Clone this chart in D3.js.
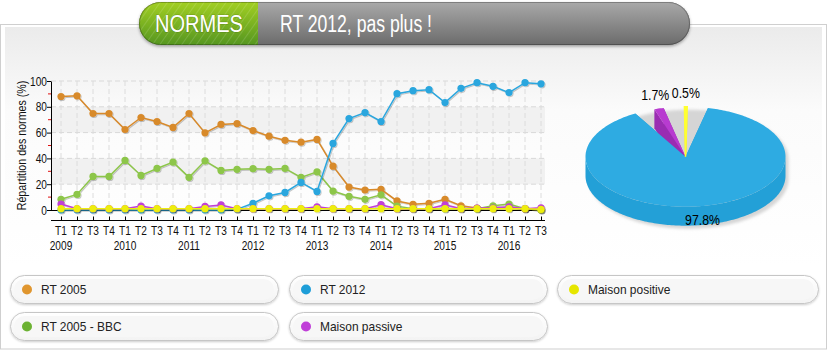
<!DOCTYPE html>
<html><head><meta charset="utf-8">
<script src="https://cdn.jsdelivr.net/npm/d3@7"></script>
<style>html,body{margin:0;padding:0;background:#fff;}svg{display:block;}</style>
</head><body><svg id="c" width="827" height="350"></svg>
<script>
// ---------- DATA ----------
const quarters = ["T1","T2","T3","T4","T1","T2","T3","T4","T1","T2","T3","T4","T1","T2","T3","T4",
                  "T1","T2","T3","T4","T1","T2","T3","T4","T1","T2","T3","T4","T1","T2","T3"];
const years = ["2009","2010","2011","2012","2013","2014","2015","2016"];
const yTicks = [0,20,40,60,80,100];
const yMinorTicks = [10,30,50,70,90];
const rt2005 =  [88,88.5,74.8,74.8, 62.4,71.7,68.6,64, 74.8,59.8,66.3,67, 61.6,57.2,54,52.6, 54.7,34,17.8,15.5, 16,7,4.4,5.2, 8.3,3.3,1.5,1.5, 1.5,1,0];
const rt2005bbc=[8.3,12.1,26,26, 38.4,26.8,32.2,37.1, 25.3,38.1,30.7,31.5, 32,31.5,32.2,25.3, 29.6,14.7,10.6,8.3, 11.8,3,1,1, 1,1,1,3.3, 4.6,1,0];
const rt2012 =  [0,0,0,0, 0,0,0,0, 0,0,0,0.5, 5.2,11,13.6,21.4, 14.4,51.6,70.9,75.5, 68.6,90.2,92.5,93.3, 83.3,94.3,98.7,95.9, 91,98.7,97.8];
const passive = [4.6,1,1,1, 1,3,1,1, 1,2.8,3.9,1, 1,1,1,1, 2.5,1,1,1, 4.1,1,1,1, 4,1,1.5,1.5, 2.5,1,1.7];
const positive =[1,1,1,1, 1,1,1,1, 1,1,1,1, 1,1,1,1, 1,1,1,1, 1,1,1,1, 1,1,1,1, 1,1,0.5];
const seriesNames = ["RT 2005","RT 2005 - BBC","RT 2012","Maison passive","Maison positive"];
const seriesColors = ["#d88a2c","#8dc64a","#2aa6de","#c13fd6","#eeee10"];
const legendColors = ["#e0962f","#6cb233","#1e9ed8","#c03fd8","#e6e600"];
const seriesValues = [rt2005, rt2005bbc, rt2012, passive, positive];
const titleTag = "NORMES";
const titleText = "RT 2012, pas plus !";
const yTitle = "Répartition des normes (%)";

// ---------- SETUP ----------
const svg = d3.select("#c");
const defs = svg.append("defs");
const SANS = '"Liberation Sans",Arial,sans-serif';

// condensed text helper (horizontal compression of a regular face)
function ntext(parent, x, y, str, size, anchor="start", sx=0.8, fill="#111"){
  return parent.append("text").attr("transform",`translate(${x},${y}) scale(${sx},1)`)
    .attr("text-anchor",anchor).attr("font-family",SANS).attr("font-size",size).attr("fill",fill).text(str);
}

function lin(id, stops, x2=0, y2=1){
  const g = defs.append("linearGradient").attr("id",id).attr("x1",0).attr("y1",0).attr("x2",x2).attr("y2",y2);
  stops.forEach(s=>g.append("stop").attr("offset",s[0]).attr("stop-color",s[1]));
}
lin("panelGrad",[[0,"#ebebeb"],[0.35,"#fbfbfb"],[1,"#ffffff"]]);
lin("greenGrad",[[0,"#a2cf22"],[1,"#559620"]]);
lin("grayGrad",[[0,"#a9a9a9"],[1,"#6b6b6b"]]);
lin("legGrad",[[0,"#ffffff"],[1,"#f3f3f3"]]);
const pat = defs.append("pattern").attr("id","stripes").attr("patternUnits","userSpaceOnUse")
  .attr("width",6).attr("height",6).attr("patternTransform","rotate(35)");
pat.append("line").attr("x1",0).attr("y1",0).attr("x2",0).attr("y2",6).attr("stroke","rgba(255,255,255,0.22)").attr("stroke-width",1.2);
const f1 = defs.append("filter").attr("id","sh").attr("x","-20%").attr("y","-20%").attr("width","140%").attr("height","160%");
f1.append("feDropShadow").attr("dx",0).attr("dy",1.5).attr("stdDeviation",1.5).attr("flood-color","#000").attr("flood-opacity",0.35);
const f2 = defs.append("filter").attr("id","lsh").attr("x","-5%").attr("y","-5%").attr("width","110%").attr("height","110%");
f2.append("feDropShadow").attr("dx",1).attr("dy",1).attr("stdDeviation",0.6).attr("flood-color","#000").attr("flood-opacity",0.22);
defs.append("filter").attr("id","blur").append("feGaussianBlur").attr("stdDeviation",1.5);
const f4 = defs.append("filter").attr("id","legsh").attr("x","-5%").attr("y","-30%").attr("width","110%").attr("height","170%");
f4.append("feDropShadow").attr("dx",0).attr("dy",1).attr("stdDeviation",1.2).attr("flood-color","#000").attr("flood-opacity",0.2);

// frame
svg.append("rect").attr("x",0.5).attr("y",24.5).attr("width",826).attr("height",324.5).attr("fill","#fff").attr("stroke","#cfcfcf");
svg.append("rect").attr("x",5).attr("y",27).attr("width",817).attr("height",240).attr("fill","url(#panelGrad)");

// ---------- TITLE PILL ----------
const tp = {x:139, y:2, w:551, h:43, split:258};
defs.append("clipPath").attr("id","pillClip").append("rect")
  .attr("x",tp.x).attr("y",tp.y).attr("width",tp.w).attr("height",tp.h).attr("rx",tp.h/2);
const tg = svg.append("g");
tg.append("rect").attr("x",tp.x).attr("y",tp.y).attr("width",tp.w).attr("height",tp.h).attr("rx",tp.h/2)
  .attr("fill","#777").attr("filter","url(#sh)");
const tc = tg.append("g").attr("clip-path","url(#pillClip)");
tc.append("rect").attr("x",tp.x).attr("y",tp.y).attr("width",tp.split-tp.x).attr("height",tp.h).attr("fill","url(#greenGrad)");
tc.append("rect").attr("x",tp.x).attr("y",tp.y).attr("width",tp.split-tp.x).attr("height",tp.h).attr("fill","url(#stripes)");
tc.append("rect").attr("x",tp.split).attr("y",tp.y).attr("width",tp.x+tp.w-tp.split).attr("height",tp.h).attr("fill","url(#grayGrad)");
tg.append("rect").attr("x",tp.x+0.5).attr("y",tp.y+0.5).attr("width",tp.w-1).attr("height",tp.h-1).attr("rx",tp.h/2-0.5)
  .attr("fill","none").attr("stroke","rgba(0,0,0,0.25)");
tg.append("text").attr("x",155).attr("y",32).text(titleTag).attr("fill","#fff")
  .attr("font-family",SANS).attr("font-size",24)
  .attr("textLength",88).attr("lengthAdjust","spacingAndGlyphs")
  .style("paint-order","stroke").attr("stroke","rgba(0,0,0,0.15)").attr("stroke-width",1.5);
tg.append("text").attr("x",280).attr("y",32).text(titleText).attr("fill","#fff")
  .attr("font-family",SANS).attr("font-size",23)
  .attr("textLength",152).attr("lengthAdjust","spacingAndGlyphs");

// ---------- LINE CHART ----------
const left = 51, right = 545;
const x = d3.scaleLinear().domain([0, quarters.length-1]).range([61, 541]);
const y = d3.scaleLinear().domain([0,100]).range([210, 81]);
const plot = svg.append("g");
[[60,80],[20,40]].forEach(b=>{
  plot.append("rect").attr("x",left).attr("y",y(b[1])).attr("width",right-left).attr("height",y(b[0])-y(b[1])).attr("fill","#f1f1f1");
});
plot.selectAll("line.hg").data(yTicks.slice(1)).join("line").attr("class","hg")
  .attr("x1",left).attr("x2",right).attr("y1",d=>y(d)).attr("y2",d=>y(d))
  .attr("stroke","#d9d9d9").attr("stroke-dasharray","5,3");
plot.selectAll("line.vg").data(quarters).join("line").attr("class","vg")
  .attr("x1",(d,i)=>x(i)).attr("x2",(d,i)=>x(i)).attr("y1",y(100)).attr("y2",y(0))
  .attr("stroke","#dcdcdc").attr("stroke-dasharray","5,3");

// Y axis
const yAx = svg.append("g").attr("transform",`translate(${left},0)`)
  .call(d3.axisLeft(y).tickValues(yTicks).tickSize(4).tickSizeOuter(0).tickFormat(""));
yAx.select(".domain").attr("stroke","#000");
yAx.selectAll(".tick line").attr("stroke","#000");
yTicks.forEach(v=>ntext(svg, left-4, y(v)+4.5, String(v), 13, "end", 0.78));
svg.selectAll("line.minor").data(yMinorTicks).join("line").attr("class","minor")
  .attr("x1",left-3).attr("x2",left).attr("y1",d=>y(d)).attr("y2",d=>y(d)).attr("stroke","#e01010");
svg.append("text").attr("transform",`translate(26,${(y(0)+y(100))/2}) rotate(-90) scale(0.82,1)`)
  .attr("text-anchor","middle").attr("font-family",SANS).attr("font-size",13)
  .attr("fill","#111").text(yTitle);

// X axis
svg.append("line").attr("x1",left).attr("x2",right).attr("y1",210.5).attr("y2",210.5).attr("stroke","#000");
const xAx = svg.append("g").attr("transform","translate(0,220.5)")
  .call(d3.axisTop(x).tickValues(d3.range(quarters.length)).tickSize(4).tickSizeOuter(0).tickFormat(""));
xAx.select(".domain").remove();
xAx.selectAll(".tick line").attr("stroke","#000");
svg.append("line").attr("x1",left).attr("x2",right).attr("y1",220.5).attr("y2",220.5).attr("stroke","#000");
quarters.forEach((q,i)=>ntext(svg, x(i), 235, q, 13, "middle", 0.78));
years.forEach((yr,i)=>ntext(svg, x(i*4), 250, yr, 13, "middle", 0.78));

// series
const line = d3.line().x((d,i)=>x(i)).y(d=>y(d));
seriesValues.forEach((vals,si)=>{
  const g = svg.append("g").attr("filter","url(#lsh)");
  g.append("path").attr("d",line(vals)).attr("fill","none").attr("stroke",seriesColors[si]).attr("stroke-width",1.5);
  g.selectAll("circle").data(vals).join("circle").attr("cx",(d,i)=>x(i)).attr("cy",d=>y(d)).attr("r",3.6)
    .attr("fill",seriesColors[si]);
});

// ---------- PIE (last quarter) ----------
const last = quarters.length-1;
const pieData = seriesValues.map((v,i)=>({name:seriesNames[i], v:v[last], idx:i})).filter(d=>d.v>0);
const pieTop = {2:"#2eabe2", 3:"#b83bd0", 4:"#ffff30"};
const pieSide = {2:"#23a0d7", 3:"#9a2cb2", 4:"#d8d820"};
const pcx = 685.5, pcy = 156.7, prx = 100, pry = 50, depth = 19;
const deg = Math.PI/180;
const arcs = d3.pie().sort(null).value(d=>d.v).startAngle(7*deg).endAngle(367*deg).padAngle(12*deg)(pieData);
const P = (t,dz=0)=>[pcx+prx*Math.sin(t), pcy-pry*Math.cos(t)+dz];
const arcPts = (a0,a1,dz)=>{const n=Math.max(2,Math.ceil(Math.abs(a1-a0)/0.02));return d3.range(n+1).map(i=>P(a0+(a1-a0)*i/n,dz));};
const poly = pts=>"M"+pts.map(p=>p[0].toFixed(2)+","+p[1].toFixed(2)).join("L")+"Z";
const pg = svg.append("g");
pg.append("path").attr("transform","translate(3,3)")
  .attr("d",poly(arcPts(-Math.PI/2,Math.PI/2,0).concat(arcPts(Math.PI/2,3*Math.PI/2,depth))))
  .attr("fill","#d5d5d5").attr("filter","url(#blur)");
const sl = arcs.map(a=>({d:a.data, a0:a.startAngle+a.padAngle/2, a1:a.endAngle-a.padAngle/2}));
sl.forEach(s=>{
  [s.a0,s.a1].forEach(a=>{
    const c=[pcx,pcy], r=P(a), rb=P(a,depth), cb=[pcx,pcy+depth];
    pg.append("path").attr("d",poly([c,r,rb,cb])).attr("fill",pieSide[s.d.idx]);
  });
});
sl.forEach(s=>{
  for(let k=-1;k<=1;k++){
    const lo=Math.max(s.a0,Math.PI/2+2*Math.PI*k), hi=Math.min(s.a1,3*Math.PI/2+2*Math.PI*k);
    if(hi>lo) pg.append("path").attr("d",poly(arcPts(lo,hi,0).concat(arcPts(hi,lo,depth)))).attr("fill",pieSide[s.d.idx]);
  }
});
sl.forEach(s=>{
  pg.append("path").attr("d",poly([[pcx,pcy]].concat(arcPts(s.a0,s.a1,0))))
    .attr("fill",pieTop[s.d.idx]).attr("stroke",s.d.idx===4?"#ffff30":"none").attr("stroke-width",s.d.idx===4?1.5:0);
});
sl.forEach(s=>{
  const m=(s.a0+s.a1)/2, r=P(m);
  ntext(pg, r[0]+14*Math.sin(m), r[1]-14*Math.cos(m)+5, d3.format(".1f")(s.d.v)+"%", 14.5, "middle", 0.85, "#000");
});

// ---------- LEGEND ----------
const legX = [10, 289, 557], legW = [268, 258, 261], legY = [275, 312], legH = 28;
const lg = svg.append("g");
seriesNames.forEach((n,i)=>{
  const col=Math.floor(i/2), row=i%2;
  const gx=legX[col], gy=legY[row];
  const g = lg.append("g");
  g.append("rect").attr("x",gx+0.5).attr("y",gy+0.5).attr("width",legW[col]).attr("height",legH).attr("rx",legH/2)
    .attr("fill","url(#legGrad)").attr("stroke","#c6c6c6").attr("filter","url(#legsh)");
  g.append("rect").attr("x",gx+4).attr("y",gy+4).attr("width",legW[col]-8).attr("height",legH-7).attr("rx",(legH-7)/2)
    .attr("fill","#f7f7f7");
  g.append("circle").attr("cx",gx+17).attr("cy",gy+legH/2+0.5).attr("r",5).attr("fill",legendColors[i]);
  ntext(g, gx+31, gy+legH/2+5, n, 13, "start", 0.92, "#222");
});
</script></body></html>
